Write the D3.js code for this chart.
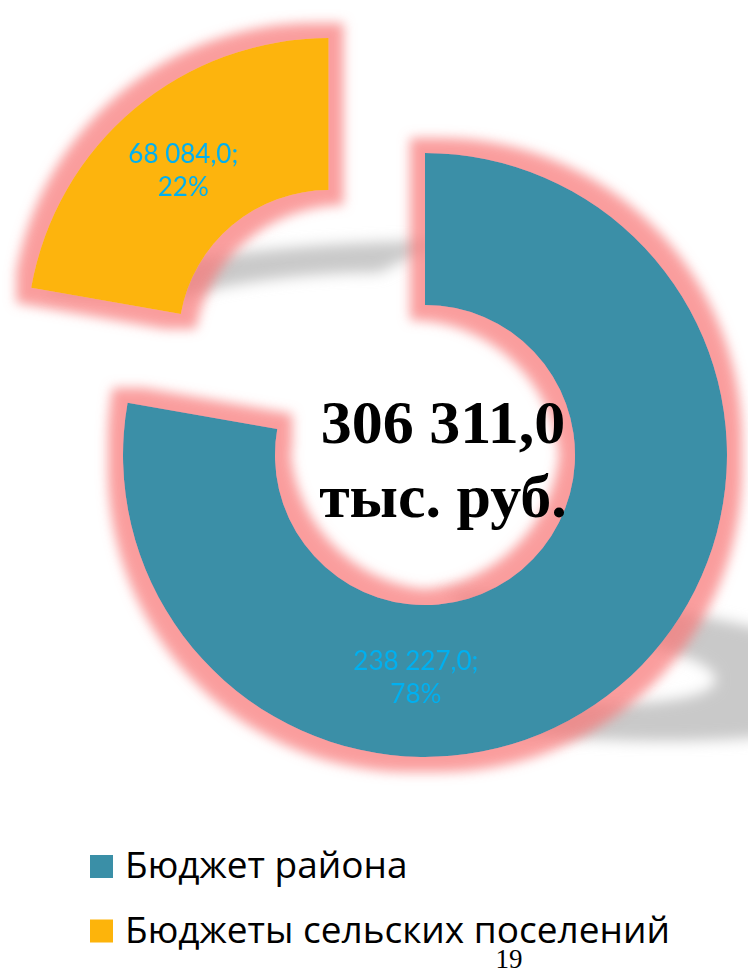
<!DOCTYPE html>
<html>
<head>
<meta charset="utf-8">
<script src="https://cdn.jsdelivr.net/npm/d3@7"></script>
<style>
  body { margin: 0; background: #fff; }
  svg { display: block; }
</style>
</head>
<body>
<div id="drawing"></div>
<script>
// data
var categories = ["Бюджет района", "Бюджеты сельских поселений"];
var values = [238227.0, 68084.0];
var totalUnit = "тыс. руб.";
var pageNumber = "19";

// look
var width = 748;
var height = 972;
var colors = ["#3a8fa7", "#fdb40b"];
var labelColor = "#00b0f0";
var cx = 425, cy = 455;
var outerR = 302, innerR = 150;
var explode = [0, 150];
// the big slice label sits near the bottom, not on the centroid
var labelPlace = [{ angle: 182.4, r: 219 }, null];

// perspective shadow per slice: squash (s), lean (k), push right (dx)
var shadowFx = [
  { k: -0.36, s: 0.245, dx: 240 },
  { k: 0.41, s: 0.207, dx: 0 }
];
var shLift = 16;

var ru = d3.formatLocale({ decimal: ",", thousands: " ", grouping: [3], currency: ["", ""] });
var fmtValue = ru.format(",.1f");
var fmtPct = d3.format(".0%");

var svg = d3.select("#drawing").append("svg")
  .attr("width", width)
  .attr("height", height)
  .style("background", "#fff");

var defs = svg.append("defs");

var glow = defs.append("filter").attr("id", "glow")
  .attr("x", "-30%").attr("y", "-30%").attr("width", "160%").attr("height", "160%");
glow.append("feMorphology").attr("in", "SourceAlpha").attr("operator", "dilate").attr("radius", 15).attr("result", "dil");
glow.append("feGaussianBlur").attr("in", "dil").attr("stdDeviation", 6).attr("result", "blur");
glow.append("feFlood").attr("flood-color", "#f87878").attr("flood-opacity", 0.72).attr("result", "col");
glow.append("feComposite").attr("in", "col").attr("in2", "blur").attr("operator", "in").attr("result", "g");
var gm = glow.append("feMerge");
gm.append("feMergeNode").attr("in", "g");
gm.append("feMergeNode").attr("in", "SourceGraphic");

var shadowBlur = defs.append("filter").attr("id", "shblur")
  .attr("filterUnits", "userSpaceOnUse")
  .attr("x", 0).attr("y", 0).attr("width", width).attr("height", height);
shadowBlur.append("feGaussianBlur").attr("stdDeviation", 7);

var shadowLayer = svg.append("g").attr("class", "shadows").attr("filter", "url(#shblur)");
var sliceLayer = svg.append("g").attr("class", "slices");
var labelLayer = svg.append("g").attr("class", "labels");

var pie = d3.pie().sort(null).value(function (d) { return d; });
var arcs = pie(values);
var total = d3.sum(values);

var arc = d3.arc().innerRadius(innerR).outerRadius(outerR);

arcs.forEach(function (a, i) {
  var mid = (a.startAngle + a.endAngle) / 2;
  var ox = cx + explode[i] * Math.sin(mid);
  var oy = cy - explode[i] * Math.cos(mid);

  var slice = sliceLayer.append("g")
    .attr("transform", "translate(" + ox + "," + oy + ")")
    .attr("filter", "url(#glow)");
  var p = slice.append("path")
    .attr("d", arc(a))
    .style("fill", colors[i]);

  // shadow hangs off the bottom of the slice
  var bb = p.node().getBBox();
  var yb = oy + bb.y + bb.height;
  var fx = shadowFx[i];
  shadowLayer.append("path")
    .attr("d", arc(a))
    .attr("transform", "matrix(1,0," + (-fx.k) + "," + fx.s + "," + (fx.k * yb + fx.dx) + "," + (yb - shLift - fx.s * yb) + ") translate(" + ox + "," + oy + ")")
    .style("fill", "#c9c9c9");

  var lx, ly;
  if (labelPlace[i]) {
    var ang = labelPlace[i].angle * Math.PI / 180;
    lx = ox + labelPlace[i].r * Math.sin(ang);
    ly = oy - labelPlace[i].r * Math.cos(ang);
  } else {
    var c = arc.centroid(a);
    lx = ox + c[0];
    ly = oy + c[1];
  }
  var t = labelLayer.append("text")
    .attr("text-anchor", "middle")
    .style("font-family", "Lato, 'Open Sans', sans-serif")
    .style("font-size", "26px")
    .style("fill", labelColor);
  t.append("tspan").attr("x", lx).attr("y", ly - 4).text(fmtValue(values[i]) + ";");
  t.append("tspan").attr("x", lx).attr("y", ly + 29).text(fmtPct(values[i] / total));
});

// total in the hole
var centre = svg.append("text")
  .attr("text-anchor", "middle")
  .style("font-family", "'Liberation Serif', 'Times New Roman', serif")
  .style("font-weight", "bold")
  .style("font-size", "62px")
  .style("fill", "#000");
centre.append("tspan").attr("x", cx + 18).attr("y", 443).text(fmtValue(total));
centre.append("tspan").attr("x", cx + 18).attr("y", 517).text(totalUnit);

// legend
var legend = svg.append("g").attr("class", "legend")
  .attr("transform", "translate(90, 855)");
var items = legend.selectAll(".item")
  .data(categories)
  .enter()
  .append("g")
  .attr("class", "item")
  .attr("transform", function (d, i) { return "translate(0," + (i * 64.5) + ")"; });
items.append("rect")
  .attr("width", 23).attr("height", 23)
  .style("fill", function (d, i) { return colors[i]; });
items.append("text")
  .attr("x", 35).attr("y", 23)
  .style("font-family", "'Open Sans', sans-serif")
  .style("font-size", "37px")
  .style("fill", "#000")
  .text(function (d) { return d; });

svg.append("text")
  .attr("x", 509).attr("y", 968)
  .attr("text-anchor", "middle")
  .style("font-family", "'Liberation Serif', serif")
  .style("font-size", "27px")
  .style("fill", "#000")
  .text(pageNumber);
</script>
</body>
</html>
